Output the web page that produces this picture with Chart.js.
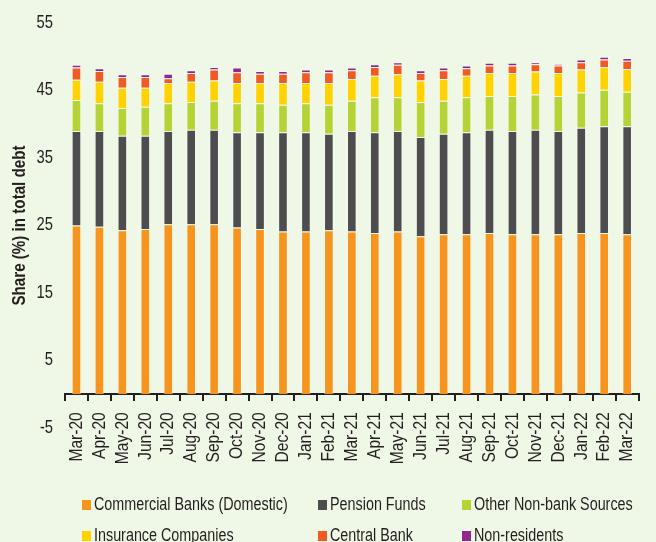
<!DOCTYPE html>
<html>
<head>
<meta charset="utf-8">
<title>Share in total debt</title>
<script src="https://cdn.jsdelivr.net/npm/chart.js@4.4.1/dist/chart.umd.min.js"></script>
<style>
  html, body { margin: 0; padding: 0; background: #eff7e6; overflow: hidden; }
  #wrap { position: relative; width: 656px; height: 542px; overflow: hidden; }
  #grafico { position: absolute; left: 0; top: 0; }
  #legenda {
    position: absolute; left: 82px; top: 489px;
    display: grid; grid-template-columns: 236px 144px 190px; grid-auto-rows: 31px;
    font-family: 'Liberation Sans', Arial, sans-serif;
    font-size: 17.5px; color: #231f20;
  }
  #legenda .voce { display: flex; align-items: center; white-space: nowrap; }
  #legenda .box { width: 9px; height: 10px; margin-right: 3px; flex: none; }
  #legenda .txt { display: inline-block; transform: scaleX(0.82); transform-origin: 0 50%; }
</style>
</head>
<body>
<div id="wrap">
  <canvas id="grafico" width="662" height="542"></canvas>
  <div id="legenda"></div>
</div>
<script>
'use strict';

const FONT = "'Liberation Sans', Arial, sans-serif";
const INK = '#231f20';
const NARROW = 0.82; // horizontal squeeze for a condensed look

const months = [
  'Mar-20', 'Apr-20', 'May-20', 'Jun-20', 'Jul-20', 'Aug-20', 'Sep-20', 'Oct-20', 'Nov-20',
  'Dec-20', 'Jan-21', 'Feb-21', 'Mar-21', 'Apr-21', 'May-21', 'Jun-21', 'Jul-21', 'Aug-21',
  'Sep-21', 'Oct-21', 'Nov-21', 'Dec-21', 'Jan-22', 'Feb-22', 'Mar-22'
];

// share (%) of total debt by holder
const commercialBanks = [25.0, 24.8, 24.3, 24.5, 25.2, 25.2, 25.2, 24.7, 24.5, 24.1, 24.1, 24.3, 24.1, 23.9, 24.1, 23.4, 23.7, 23.7, 23.9, 23.7, 23.7, 23.7, 23.9, 23.9, 23.7];
const pensionFunds    = [14.0, 14.2, 14.0, 13.8, 13.8, 14.0, 14.0, 14.1, 14.3, 14.7, 14.7, 14.3, 14.9, 14.9, 14.9, 14.7, 14.9, 15.1, 15.3, 15.3, 15.5, 15.3, 15.6, 15.8, 16.0];
const otherNonBank    = [4.6, 4.1, 4.1, 4.3, 4.1, 4.1, 4.3, 4.3, 4.3, 4.1, 4.3, 4.3, 4.5, 5.2, 5.0, 5.2, 4.9, 5.2, 5.0, 5.2, 5.2, 5.2, 5.2, 5.4, 5.1];
const insurance       = [3.0, 3.2, 3.0, 2.8, 3.0, 3.0, 3.0, 3.0, 3.0, 3.2, 3.0, 3.2, 3.2, 3.2, 3.4, 3.2, 3.2, 3.2, 3.4, 3.4, 3.4, 3.4, 3.4, 3.4, 3.4];
const centralBank     = [1.8, 1.6, 1.6, 1.6, 0.7, 1.3, 1.6, 1.6, 1.4, 1.4, 1.6, 1.6, 1.3, 1.3, 1.4, 1.1, 1.3, 1.1, 1.1, 1.1, 1.1, 1.1, 1.1, 1.1, 1.2];
const nonResidents    = [0.4, 0.4, 0.4, 0.4, 0.7, 0.4, 0.4, 0.7, 0.4, 0.4, 0.4, 0.4, 0.4, 0.4, 0.4, 0.4, 0.4, 0.4, 0.4, 0.4, 0.3, 0.2, 0.4, 0.4, 0.4];

const seriesNames  = ['Commercial Banks (Domestic)', 'Pension Funds', 'Other Non-bank Sources', 'Insurance Companies', 'Central Bank', 'Non-residents'];
const seriesColors = ['#f7941d', '#4d4d4f', '#b5d334', '#ffd200', '#f15a24', '#92278f'];
const seriesData   = [commercialBanks, pensionFunds, otherNonBank, insurance, centralBank, nonResidents];

const yTicks = { min: -5, max: 55, step: 10 };

const datasets = seriesNames.map((name, i) => ({
  label: name,
  data: seriesData[i],
  backgroundColor: seriesColors[i],
  borderColor: 'rgba(255,255,255,0.45)',
  borderWidth: 1,
  categoryPercentage: 1,
  barPercentage: 0.42
}));

// squeeze every canvas label along its baseline
const condensedText = {
  id: 'condensedText',
  beforeDraw(chart) {
    const c = chart.ctx;
    if (c._narrow) return;
    const fill = c.fillText.bind(c);
    c.fillText = function (text, x, y, maxWidth) {
      c.save();
      c.translate(x, y);
      c.scale(NARROW, 1);
      if (maxWidth === undefined) fill(text, 0, 0);
      else fill(text, 0, 0, maxWidth / NARROW);
      c.restore();
    };
    c._narrow = true;
  }
};

const ctx = document.getElementById('grafico').getContext('2d');
const chart = new Chart(ctx, {
  type: 'bar',
  data: { labels: months, datasets: datasets },
  plugins: [condensedText],
  options: {
    responsive: false,
    animation: false,
    layout: { padding: { left: 0, top: 23, right: 2, bottom: 114 } },
    plugins: { legend: { display: false }, tooltip: { enabled: false } },
    scales: {
      x: {
        stacked: true,
        position: { y: 0 },
        offset: true,
        border: { display: true, color: INK, width: 2 },
        grid: { offset: true, drawOnChartArea: false, drawTicks: true, tickLength: 6, color: INK, lineWidth: 2 },
        ticks: { autoSkip: false, minRotation: 90, maxRotation: 90, padding: 12, color: INK, font: { family: FONT, size: 19 } }
      },
      y: {
        stacked: true,
        min: yTicks.min,
        max: yTicks.max,
        border: { display: false },
        grid: { display: false, drawTicks: false },
        ticks: { stepSize: yTicks.step, padding: 12, color: INK, font: { family: FONT, size: 18 } },
        title: {
          display: true,
          text: 'Share (%) in total debt',
          color: INK,
          padding: { top: 9, bottom: 0 },
          font: { family: FONT, size: 18.5, weight: 'bold' }
        },
        afterFit: scale => { scale.width = 65; }
      }
    }
  }
});

// legend in three columns
const legenda = document.getElementById('legenda');
seriesNames.forEach((name, i) => {
  const item = document.createElement('div');
  item.className = 'voce';
  item.innerHTML = `<span class="box" style="background:${seriesColors[i]}"></span><span class="txt">${name}</span>`;
  legenda.appendChild(item);
});
</script>
</body>
</html>
